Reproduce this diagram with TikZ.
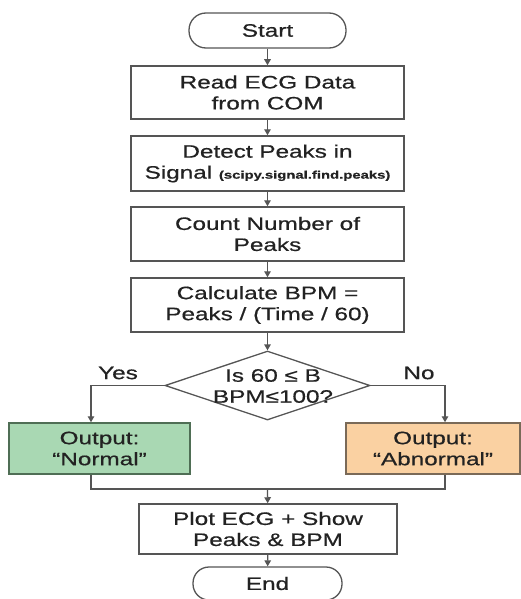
\documentclass[tikz,border=0pt]{standalone}
\usepackage{fontspec}
\setmainfont{Liberation Sans}[FakeStretch=1.35,FakeBold=0.6]
\usetikzlibrary{shapes.geometric,arrows.meta}
\definecolor{ln}{HTML}{555555}
\definecolor{tx}{HTML}{222222}
\definecolor{gfill}{HTML}{A9D8B3}
\definecolor{gline}{HTML}{4F6E55}
\definecolor{ofill}{HTML}{FAD1A2}
\definecolor{oline}{HTML}{7A6A58}
\begin{document}
\begin{tikzpicture}[x=1pt,y=-1pt,
  every node/.style={text=tx,font=\fontsize{18}{21}\selectfont,align=center,inner sep=0pt},
  box/.style={draw=ln,line width=1.5pt,fill=white,rectangle},
  arr/.style={draw=ln,line width=1.3pt,-{Triangle[length=6pt,width=6.5pt]}},
  ln/.style={draw=ln,line width=1.3pt}]
\useasboundingbox (0,0) rectangle (521,599);
\fill[white] (0,0) rectangle (521,599);
\node[draw=ln,line width=1.3pt,fill=white,rectangle,rounded corners=17pt,minimum width=157pt,minimum height=35pt] (start) at (267.5,30.5) {Start};
\node[box,minimum width=273pt,minimum height=53pt] (read) at (267.5,92.5) {Read ECG Data\\from COM};
\node[box,minimum width=273pt,minimum height=55pt] (detect) at (267.5,163.5) {Detect Peaks in\\Signal {\fontsize{11}{13}\selectfont\bfseries (scipy.signal.find.peaks)}};
\node[box,minimum width=273pt,minimum height=54pt] (count) at (267.5,234) {Count Number of\\Peaks};
\node[box,minimum width=273pt,minimum height=54pt] (calc) at (267.5,305) {Calculate BPM =\\Peaks / (Time / 60)};
\node[diamond,draw=ln,line width=1.3pt,fill=white,minimum width=205pt,minimum height=69pt,inner sep=0pt] (dec) at (267.5,385.5) {};
\node (dectext) at (273,386) {Is 60 ≤ B\\BPM≤100?};
\node[draw=gline,fill=gfill,line width=1.5pt,minimum width=181pt,minimum height=51pt] (normal) at (99.5,448.5) {Output:\\“Normal”};
\node[draw=oline,fill=ofill,line width=1.5pt,minimum width=174pt,minimum height=51pt] (abnormal) at (433,448.5) {Output:\\“Abnormal”};
\node[box,minimum width=258pt,minimum height=50pt] (plot) at (268,529) {Plot ECG + Show\\Peaks \& BPM};
\node[draw=ln,line width=1.3pt,fill=white,rectangle,rounded corners=16pt,minimum width=149pt,minimum height=33pt] (end) at (267.5,583.5) {End};
\node (yes) at (118,373) {Yes};
\node (no) at (419,373) {No};
\coordinate (lx) at (91,0);
\coordinate (rx) at (445,0);
\coordinate (my) at (0,489);
\coordinate (merge) at (267.5,489);
\draw[arr] (start) -- (read);
\draw[arr] (read) -- (detect);
\draw[arr] (detect) -- (count);
\draw[arr] (count) -- (calc);
\draw[arr] (calc) -- (dec);
\draw[arr] (dec.west) -| (normal.north -| lx);
\draw[arr] (dec.east) -| (abnormal.north -| rx);
\draw[ln] (normal.south -| lx) -- (my -| lx) -- (my -| rx) -- (abnormal.south -| rx);
\draw[arr] (merge) -- (plot);
\draw[arr] (plot) -- (end);
\end{tikzpicture}
\end{document}
